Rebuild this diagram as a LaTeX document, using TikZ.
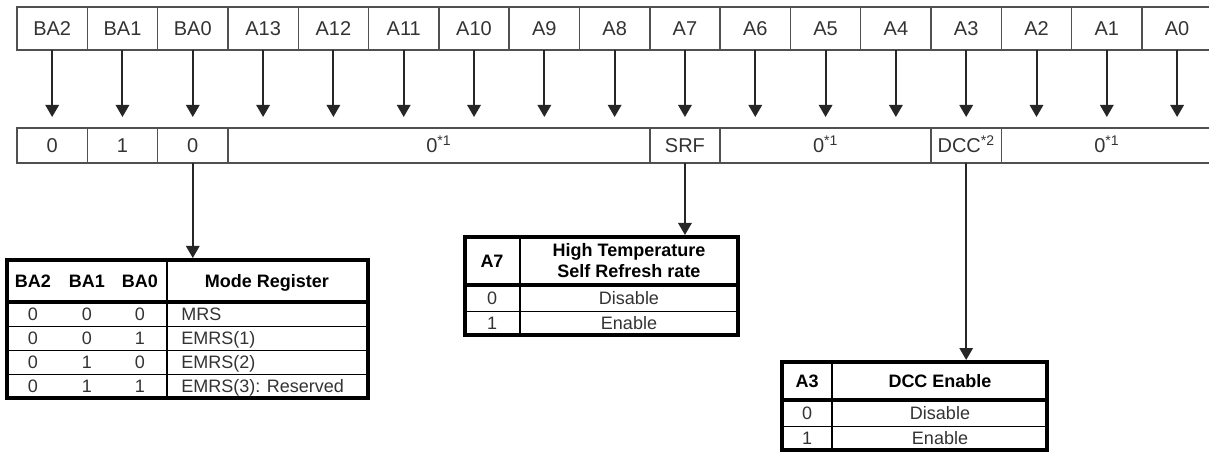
\documentclass[tikz,border=0pt]{standalone}
\usepackage{fontspec}
\setmainfont{Liberation Sans}
\usetikzlibrary{arrows.meta}
\definecolor{ink}{HTML}{333333}
\definecolor{rule}{HTML}{505050}
\newcommand\cellfont{\fontsize{15}{18}\selectfont}
\newcommand\tblfont{\fontsize{13.5}{15.75}\selectfont}
\tikzset{
    cell/.style = {rectangle, draw=rule, line width=1.1pt, inner sep=0pt, outer sep=0pt, minimum width=52.73pt, minimum height=32.25pt, font=\cellfont, text=ink, text height=10.7pt, text depth=0pt},
    valcell/.style = {cell, minimum height=26.25pt},
    bitarrow/.style = {-{Triangle[width=10pt,length=9pt]}, line width=1.5pt, black!85},
    tbl/.style = {rectangle, draw=black, line width=2.4pt, inner sep=0pt, outer sep=0pt},
    tbltext/.style = {font=\tblfont, text=ink, inner sep=0pt, text height=9.7pt, text depth=0pt},
    tblhead/.style = {tbltext, font=\tblfont\bfseries, text=black},
    twoline/.style = {font=\tblfont\bfseries, text=black, inner sep=0pt, align=center},
}
\begin{document}
\begin{tikzpicture}[x=0.75pt, y=-0.75pt]
\useasboundingbox (0,0) rectangle (1209,452);
% address pins
\foreach \lab [count=\i from 0] in {BA2,BA1,BA0,A13,A12,A11,A10,A9,A8,A7,A6,A5,A4,A3,A2,A1,A0}
    \node[cell] (t\i) at ({52.16+70.31*\i},28.5) {\lab};
% register contents
\node[valcell] at (52.16,145.5) (b0) {0};
\node[valcell] at (122.47,145.5) (b1) {1};
\node[valcell] at (192.78,145.5) (b2) {0};
\node[valcell, minimum width=316.38pt] at (438.86,145.5) (rsva) {0\textsuperscript{*1}};
\node[valcell] at (684.95,145.5) (srf) {SRF};
\node[valcell, minimum width=158.19pt] at (825.57,145.5) (rsvb) {0\textsuperscript{*1}};
\node[valcell] at (966.19,145.5) (dcc) {DCC\textsuperscript{*2}};
\node[valcell, minimum width=158.19pt] at (1106.81,145.5) (rsvc) {0\textsuperscript{*1}};
%
\foreach \i in {0,...,16}
    \draw[bitarrow, shorten >=8.25pt] (t\i.south) -- (t\i.south |- b0.north);
%
% mode register table
\node[tbl, minimum width=270.75pt, minimum height=103.5pt] at (187.5,329) (mrs) {};
\draw[line width=2.4pt] (7,302) -- (368,302);
\draw[line width=1pt] (167,260) -- (167,398);
\foreach \y in {326,350,374}
    \draw[line width=0.6pt] (7,\y) -- (368,\y);
\foreach \x/\lab in {33/BA2,87/BA1,140/BA0}
    \node[tblhead] at (\x,281) {\lab};
\node[tblhead] at (267,281) {Mode Register};
\foreach \a/\b/\c/\mode [count=\r from 0] in {0/0/0/MRS,0/0/1/EMRS(1),0/1/0/EMRS(2),0/1/1/EMRS(3): Reserved} {
    \node[tbltext] at (33,{314+24*\r}) {\a};
    \node[tbltext] at (87,{314+24*\r}) {\b};
    \node[tbltext] at (140,{314+24*\r}) {\c};
    \node[tbltext, anchor=west] at (181,{314+24*\r}) {\mode};
}
%
% self refresh table
\node[tbl, minimum width=204.75pt, minimum height=73.5pt] at (601.5,286) (srftbl) {};
\draw[line width=2.4pt] (465,285) -- (738,285);
\draw[line width=1pt] (520,237) -- (520,335);
\draw[line width=0.6pt] (465,311) -- (738,311);
\node[tblhead] at (492,261) {A7};
\node[twoline] at (629,261) {High Temperature\\Self Refresh rate};
\node[tbltext] at (492,298) {0};
\node[tbltext] at (629,298) {Disable};
\node[tbltext] at (492,323) {1};
\node[tbltext] at (629,323) {Enable};
%
% dcc table
\node[tbl, minimum width=198.75pt, minimum height=66pt] at (914.5,406) (dcctbl) {};
\draw[line width=2.4pt] (782,400) -- (1047,400);
\draw[line width=1pt] (832,362) -- (832,450);
\draw[line width=0.6pt] (782,426) -- (1047,426);
\node[tblhead] at (807,381) {A3};
\node[tblhead] at (940,381) {DCC Enable};
\node[tbltext] at (807,413) {0};
\node[tbltext] at (940,413) {Disable};
\node[tbltext] at (807,438) {1};
\node[tbltext] at (940,438) {Enable};
%
\draw[bitarrow, shorten >=1.5pt] (b2.south) -- (b2.south |- mrs.north);
\draw[bitarrow, shorten >=1.5pt] (srf.south) -- (srf.south |- srftbl.north);
\draw[bitarrow, shorten >=1.5pt] (dcc.south) -- (dcc.south |- dcctbl.north);
\end{tikzpicture}
\end{document}
